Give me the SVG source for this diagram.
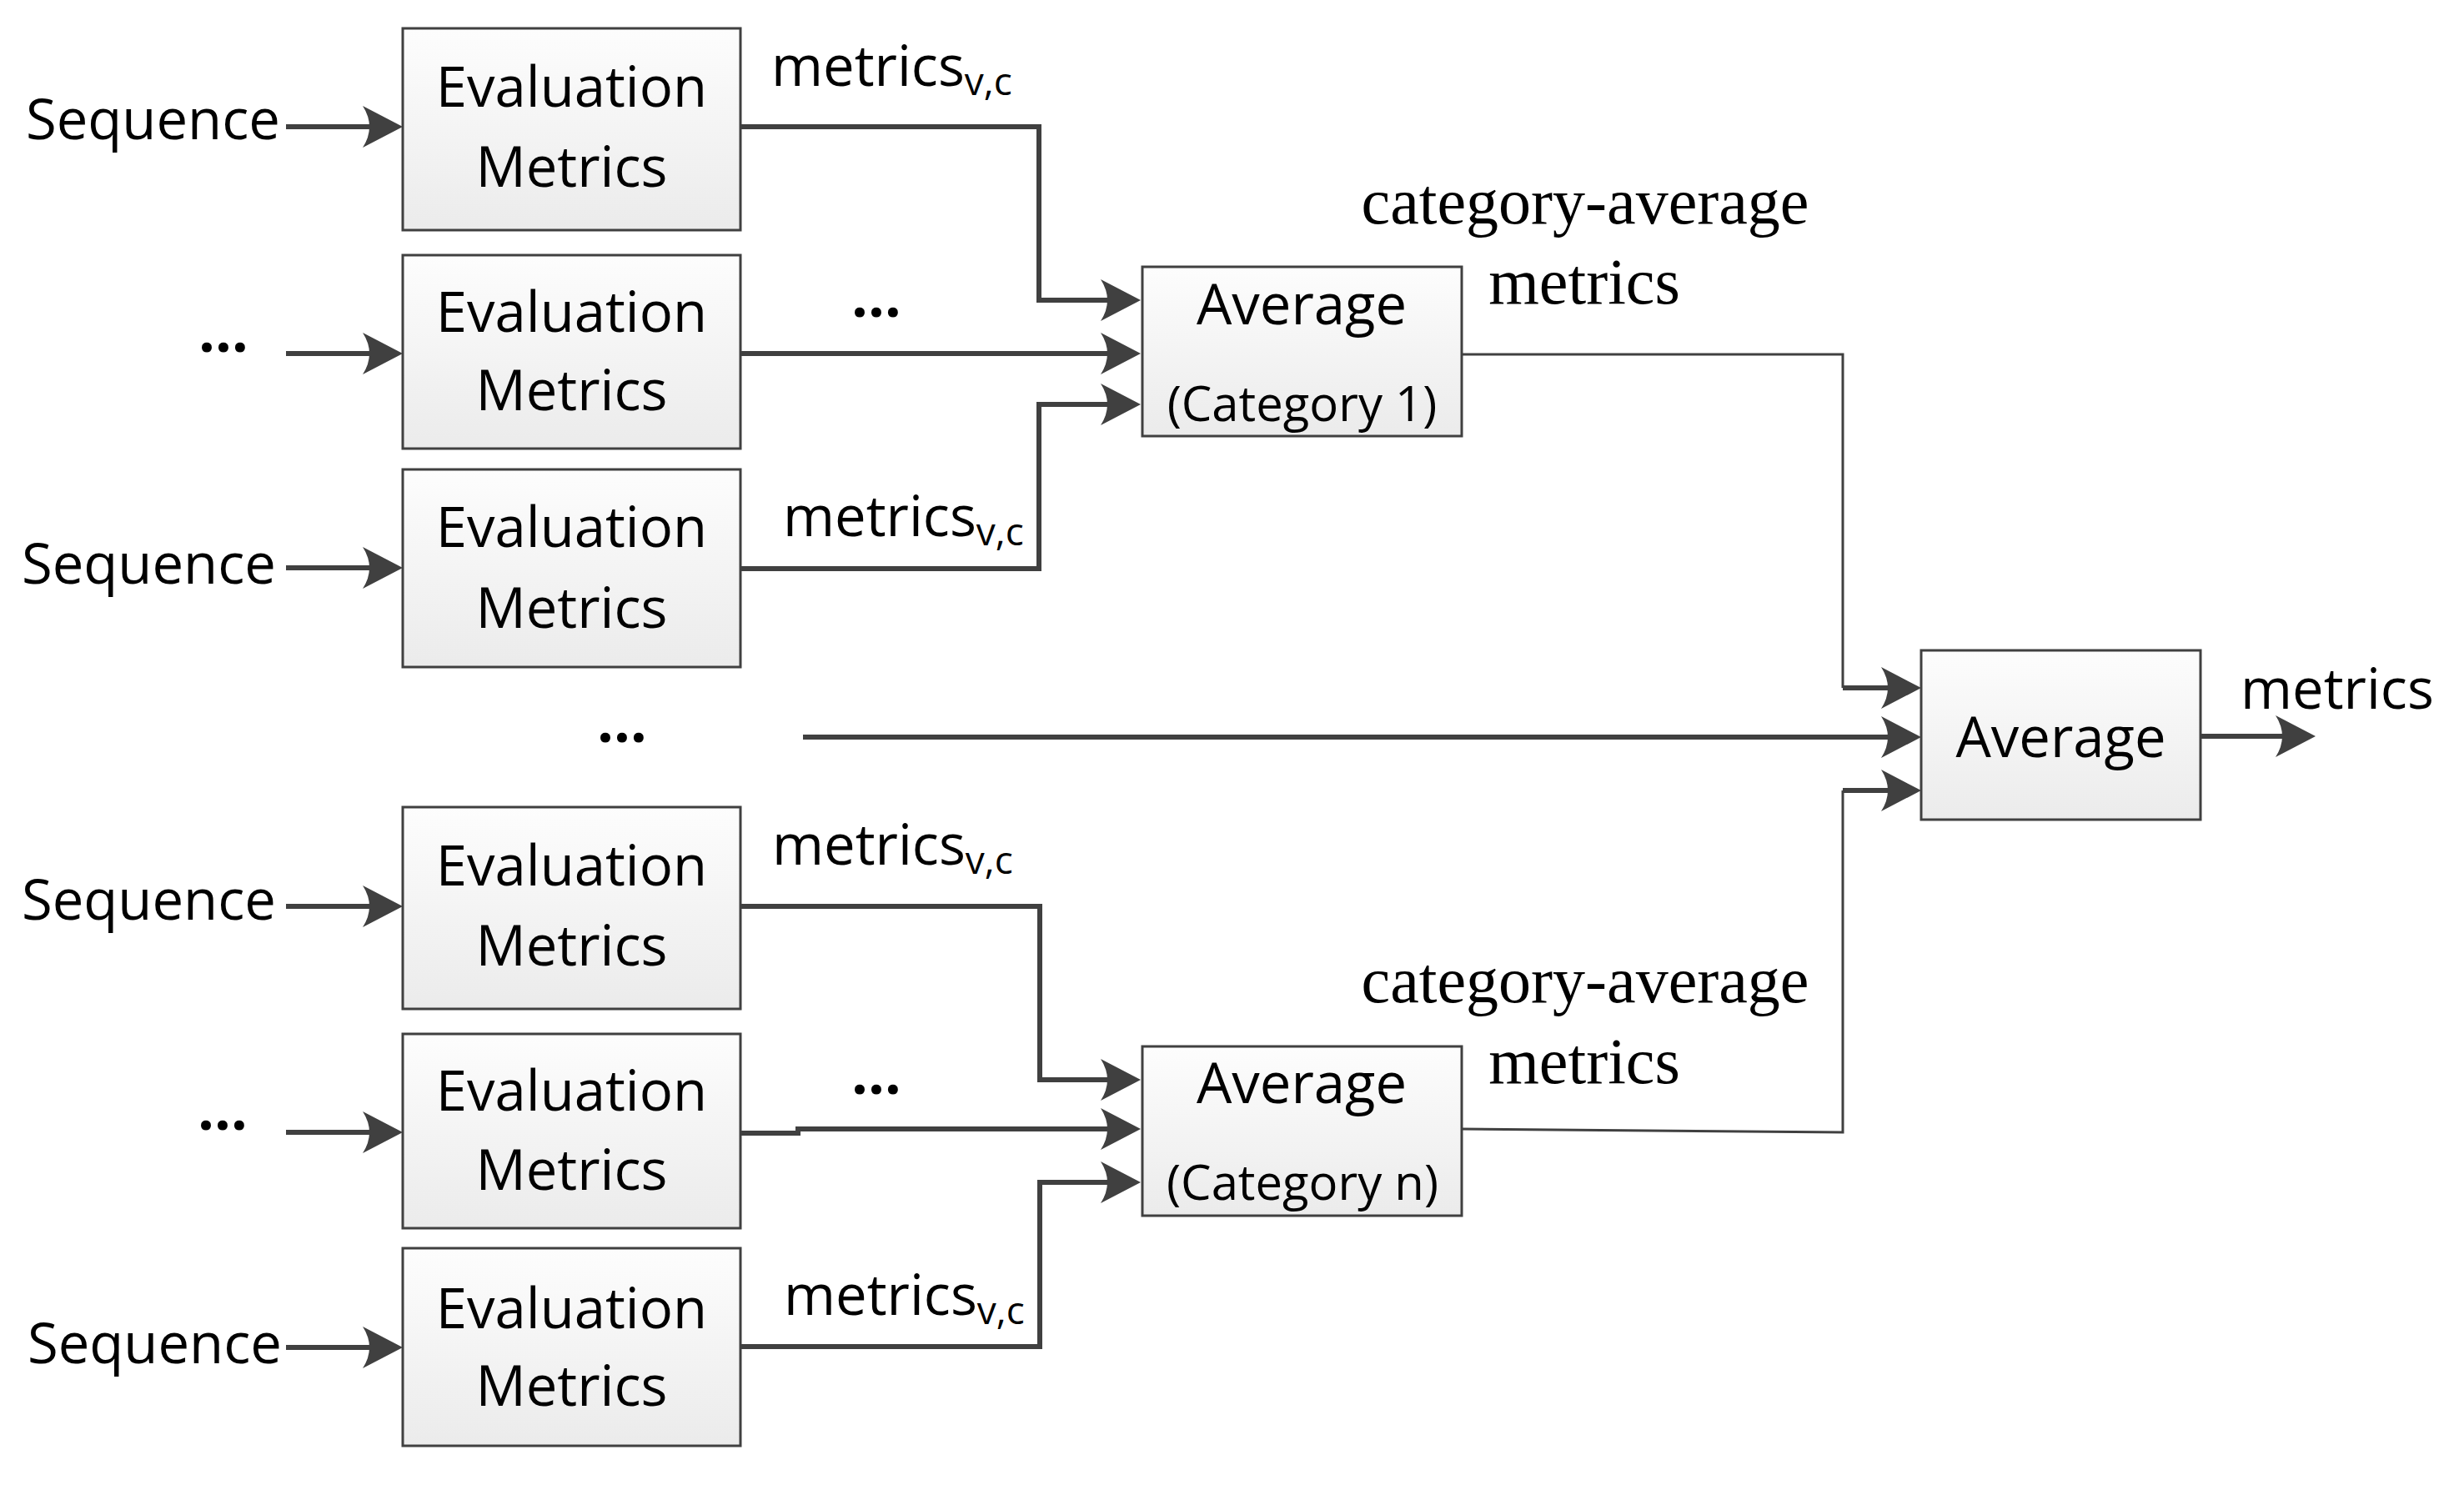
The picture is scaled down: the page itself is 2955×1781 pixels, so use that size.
<svg xmlns="http://www.w3.org/2000/svg" width="2955" height="1781" viewBox="0 0 2955 1781">
<defs>
<linearGradient id="boxfill" x1="0" y1="0" x2="0" y2="1">
<stop offset="0" stop-color="#fdfdfd"/>
<stop offset="1" stop-color="#ebebeb"/>
</linearGradient>
<marker id="arr" markerUnits="userSpaceOnUse" viewBox="0 0 50 50" markerWidth="50" markerHeight="50" refX="18" refY="25" orient="auto">
<path d="M0,0 L48,25 L0,50 Q16,25 0,0 Z" fill="#404040"/>
</marker>
</defs>
<style>
.box{fill:url(#boxfill);stroke:#404040;stroke-width:3}
.t{font-family:"Open Sans","Noto Sans",sans-serif;font-size:67px;fill:#000}
.dots{font-family:"Open Sans","Noto Sans",sans-serif;font-size:70px;font-weight:700;fill:#000}
.sub{font-size:46px}
.cat{font-family:"Open Sans","Noto Sans",sans-serif;font-size:58px;fill:#000}
.serif{font-family:"Liberation Serif","Times New Roman",serif;font-size:78px;fill:#000}
.thick{fill:none;stroke:#404040;stroke-width:6;stroke-linejoin:miter}
.thin{fill:none;stroke:#404040;stroke-width:3}
</style>
<rect width="2955" height="1781" fill="#fff"/>

<g id="connectors">
<path class="thick" d="M343,152 H453" marker-end="url(#arr)"/>
<path class="thick" d="M343,424 H453" marker-end="url(#arr)"/>
<path class="thick" d="M343,681 H453" marker-end="url(#arr)"/>
<path class="thick" d="M343,1087 H453" marker-end="url(#arr)"/>
<path class="thick" d="M343,1358 H453" marker-end="url(#arr)"/>
<path class="thick" d="M343,1616 H453" marker-end="url(#arr)"/>
<path class="thick" d="M888,152 H1246 V360 H1338" marker-end="url(#arr)"/>
<path class="thick" d="M888,424 H1338" marker-end="url(#arr)"/>
<path class="thick" d="M888,682 H1246 V485 H1338" marker-end="url(#arr)"/>
<path class="thick" d="M888,1087 H1247 V1295 H1338" marker-end="url(#arr)"/>
<path class="thick" d="M888,1359 H957 V1354 H1338" marker-end="url(#arr)"/>
<path class="thick" d="M888,1615 H1247 V1418 H1338" marker-end="url(#arr)"/>
<path class="thin" d="M1753,425 H2210 V825"/>
<path class="thick" d="M2210,825 H2274" marker-end="url(#arr)"/>
<path class="thick" d="M963,884 H2274" marker-end="url(#arr)"/>
<path class="thin" d="M1753,1354 L2210,1358 V948"/>
<path class="thick" d="M2210,948 H2274" marker-end="url(#arr)"/>
<path class="thick" d="M2639,883 H2747" marker-end="url(#arr)"/>
</g>

<g id="labels">
<text class="t" x="31" y="167">Sequence</text>
<text class="dots" x="238" y="422">…</text>
<text class="t" x="26" y="700">Sequence</text>
<text class="t" x="26" y="1103">Sequence</text>
<text class="dots" x="237" y="1355">…</text>
<text class="t" x="33" y="1635">Sequence</text>

<text class="t" x="925" y="103">metrics<tspan class="sub" dy="11">v,c</tspan></text>
<text class="dots" x="1021" y="380">…</text>
<text class="t" x="939" y="643">metrics<tspan class="sub" dy="11">v,c</tspan></text>
<text class="dots" x="716" y="890">…</text>
<text class="t" x="926" y="1037">metrics<tspan class="sub" dy="11">v,c</tspan></text>
<text class="dots" x="1021" y="1312">…</text>
<text class="t" x="940" y="1577">metrics<tspan class="sub" dy="11">v,c</tspan></text>

<text class="serif" x="1901" y="268" text-anchor="middle">category-average</text>
<text class="serif" x="1900" y="364" text-anchor="middle">metrics</text>
<text class="serif" x="1901" y="1202" text-anchor="middle">category-average</text>
<text class="serif" x="1900" y="1299" text-anchor="middle">metrics</text>

<text class="t" x="2687" y="850">metrics</text>
</g>

<g id="eval1"><rect class="box" x="483" y="34" width="405" height="242"/>
<text class="t" x="685.5" y="128" text-anchor="middle">Evaluation</text>
<text class="t" x="685.5" y="224" text-anchor="middle">Metrics</text></g>
<g id="eval2"><rect class="box" x="483" y="306" width="405" height="232"/>
<text class="t" x="685.5" y="398" text-anchor="middle">Evaluation</text>
<text class="t" x="685.5" y="492" text-anchor="middle">Metrics</text></g>
<g id="eval3"><rect class="box" x="483" y="563" width="405" height="237"/>
<text class="t" x="685.5" y="656" text-anchor="middle">Evaluation</text>
<text class="t" x="685.5" y="753" text-anchor="middle">Metrics</text></g>
<g id="eval4"><rect class="box" x="483" y="968" width="405" height="242"/>
<text class="t" x="685.5" y="1062" text-anchor="middle">Evaluation</text>
<text class="t" x="685.5" y="1158" text-anchor="middle">Metrics</text></g>
<g id="eval5"><rect class="box" x="483" y="1240" width="405" height="233"/>
<text class="t" x="685.5" y="1332" text-anchor="middle">Evaluation</text>
<text class="t" x="685.5" y="1427" text-anchor="middle">Metrics</text></g>
<g id="eval6"><rect class="box" x="483" y="1497" width="405" height="237"/>
<text class="t" x="685.5" y="1593" text-anchor="middle">Evaluation</text>
<text class="t" x="685.5" y="1686" text-anchor="middle">Metrics</text></g>

<g id="avg1"><rect class="box" x="1370" y="320" width="383" height="203"/>
<text class="t" x="1561" y="389" text-anchor="middle">Average</text>
<text class="cat" x="1561.5" y="505" text-anchor="middle">(Category 1)</text></g>
<g id="avgn"><rect class="box" x="1370" y="1255" width="383" height="203"/>
<text class="t" x="1561" y="1323" text-anchor="middle">Average</text>
<text class="cat" x="1562" y="1439" text-anchor="middle">(Category n)</text></g>
<g id="avgfinal"><rect class="box" x="2304" y="780" width="335" height="203"/>
<text class="t" x="2471.5" y="908" text-anchor="middle">Average</text></g>
</svg>
